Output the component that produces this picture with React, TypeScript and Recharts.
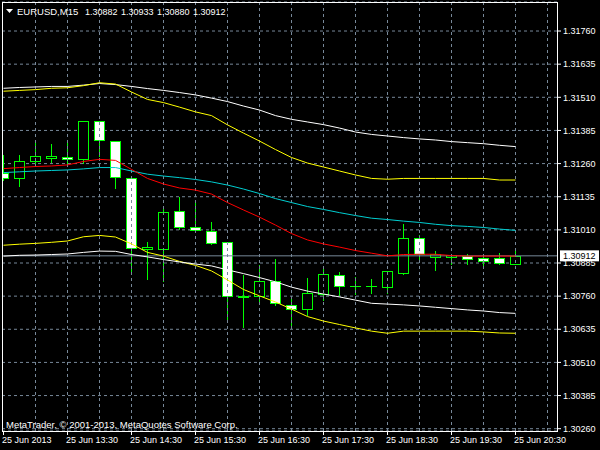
import React from "react";
import { ComposedChart, Bar, Line, XAxis, YAxis, CartesianGrid, ReferenceLine } from "recharts";

// EURUSD M15, 25 Jun 2013, 12:30 .. 20:30
const times = [
  "12:30", "12:45", "13:00", "13:15", "13:30", "13:45", "14:00", "14:15",
  "14:30", "14:45", "15:00", "15:15", "15:30", "15:45", "16:00", "16:15",
  "16:30", "16:45", "17:00", "17:15", "17:30", "17:45", "18:00", "18:15",
  "18:30", "18:45", "19:00", "19:15", "19:30", "19:45", "20:00", "20:15", "20:30",
];

const opens = [
  1.31226, 1.31204, 1.31269, 1.31282, 1.31284, 1.31276, 1.31419, 1.31344,
  1.31204, 1.30939, 1.30937, 1.3108, 1.3102, 1.31004, 1.30963, 1.30762,
  1.30759, 1.30816, 1.30728, 1.3071, 1.30767, 1.30839, 1.30797, 1.30797,
  1.30793, 1.30849, 1.30978, 1.30909, 1.30909, 1.3091, 1.30903, 1.30904, 1.30882,
];
const highs = [
  1.31292, 1.31292, 1.31348, 1.31334, 1.31341, 1.3142, 1.3142, 1.31345,
  1.31205, 1.30963, 1.31097, 1.31135, 1.3112, 1.31038, 1.30964, 1.3084,
  1.30877, 1.309, 1.30753, 1.30827, 1.30874, 1.3085, 1.30833, 1.30823,
  1.30855, 1.31032, 1.30991, 1.3093, 1.30918, 1.30919, 1.30911, 1.30923, 1.30933,
];
const lows = [
  1.31198, 1.31175, 1.31261, 1.31265, 1.31253, 1.31263, 1.31289, 1.31169,
  1.30842, 1.30825, 1.30818, 1.31012, 1.31006, 1.30958, 1.30661, 1.30645,
  1.30743, 1.30727, 1.30644, 1.30689, 1.30745, 1.30764, 1.30768, 1.30772,
  1.30773, 1.30842, 1.30887, 1.30859, 1.3088, 1.3088, 1.30865, 1.3088, 1.3088,
];
const closes = [
  1.31204, 1.31269, 1.31287, 1.31287, 1.31276, 1.31419, 1.31348, 1.3121,
  1.3094, 1.30945, 1.31076, 1.3102, 1.31008, 1.30959, 1.30759, 1.30756,
  1.30816, 1.30733, 1.30713, 1.30771, 1.30842, 1.30797, 1.30797, 1.30797,
  1.30854, 1.30978, 1.30919, 1.30919, 1.30914, 1.30901, 1.30894, 1.30884, 1.30912,
];

// indicator lines (white = outer bands, yellow = inner bands)
const outerUpper = [
  1.31544, 1.31547, 1.31549, 1.31551, 1.31551, 1.31556, 1.31562, 1.31558,
  1.31551, 1.31543, 1.31536, 1.31528, 1.31519, 1.31507, 1.31494, 1.31477,
  1.31462, 1.31441, 1.31427, 1.31417, 1.31407, 1.31394, 1.31379, 1.3137,
  1.31364, 1.31358, 1.31353, 1.31349, 1.31343, 1.31339, 1.31335, 1.31329, 1.31324,
];
const innerUpper = [
  1.31533, 1.31536, 1.31539, 1.31544, 1.31546, 1.31554, 1.31565, 1.3156,
  1.3153, 1.31502, 1.3149, 1.31473, 1.31455, 1.31441, 1.31406, 1.31375,
  1.31345, 1.31313, 1.31283, 1.31262, 1.31247, 1.31232, 1.31217, 1.31204,
  1.31201, 1.31204, 1.31204, 1.31204, 1.31204, 1.31204, 1.31204, 1.31198, 1.31198,
];
const slowMa = [
  1.31226, 1.31229, 1.31232, 1.31234, 1.31236, 1.3124, 1.31245, 1.31245,
  1.31232, 1.3122, 1.31213, 1.31207, 1.312, 1.31191, 1.31179, 1.31164,
  1.31147, 1.31128, 1.31113, 1.31098, 1.31087, 1.31075, 1.31064, 1.31054,
  1.31049, 1.31043, 1.31038, 1.31031, 1.31026, 1.31023, 1.31019, 1.31013, 1.31008,
];
const fastMa = [
  1.31241, 1.31245, 1.31249, 1.31251, 1.31255, 1.31268, 1.31276, 1.31272,
  1.31238, 1.31204, 1.31183, 1.31168, 1.3116, 1.31145, 1.31113, 1.31085,
  1.31058, 1.31028, 1.30996, 1.30972, 1.30957, 1.30945, 1.30932, 1.30922,
  1.30912, 1.30917, 1.30918, 1.30918, 1.30913, 1.30911, 1.30911, 1.30911, 1.30911,
];
const innerLower = [
  1.30952, 1.30956, 1.30959, 1.30963, 1.30968, 1.30984, 1.30989, 1.30983,
  1.30957, 1.30925, 1.30911, 1.30891, 1.30876, 1.30855, 1.30821, 1.30785,
  1.30761, 1.30738, 1.30711, 1.30683, 1.30666, 1.30653, 1.3064, 1.30628,
  1.3062, 1.30628, 1.30628, 1.30628, 1.30628, 1.30628, 1.30625, 1.30621, 1.3062,
];
const outerLower = [
  1.30911, 1.30914, 1.30915, 1.30917, 1.30919, 1.30925, 1.3093, 1.30929,
  1.30917, 1.30908, 1.30898, 1.30889, 1.30881, 1.30874, 1.30859, 1.30845,
  1.3083, 1.30814, 1.30794, 1.30779, 1.30768, 1.30757, 1.30745, 1.30733,
  1.3073, 1.30727, 1.30723, 1.30718, 1.30713, 1.30708, 1.30704, 1.30698, 1.30695,
];

const yTicks = [
  1.3176, 1.31635, 1.3151, 1.31385, 1.3126, 1.31135, 1.3101,
  1.30885, 1.3076, 1.30635, 1.3051, 1.30385, 1.3026,
];
const xTickIdx = [0, 4, 8, 12, 16, 20, 24, 28, 32];
const xTickLabels = [
  "25 Jun 2013", "25 Jun 13:30", "25 Jun 14:30", "25 Jun 15:30", "25 Jun 16:30",
  "25 Jun 17:30", "25 Jun 18:30", "25 Jun 19:30", "25 Jun 20:30",
];
const gridIdx = [2, 4, 6, 8, 10, 12, 14, 16, 18, 20, 22, 24, 26, 28, 30, 32, 34];

const symbol = "EURUSD,M15";
const copyright = "MetaTrader, \u00a9 2001-2013, MetaQuotes Software Corp.";

const data = times.map((t, i) => ({
  idx: i,
  time: t,
  open: opens[i],
  high: highs[i],
  low: lows[i],
  close: closes[i],
  range: [lows[i], highs[i]],
  outerUpper: outerUpper[i],
  innerUpper: innerUpper[i],
  slowMa: slowMa[i],
  fastMa: fastMa[i],
  innerLower: innerLower[i],
  outerLower: outerLower[i],
}));

const last = data[data.length - 1];
const FONT = "'Liberation Sans', Arial, sans-serif";
const GREEN = "#00ff00";
const GRID = "#778899";

const Candle = (props: any) => {
  const { x, y, width, height, payload } = props;
  if (!payload || height == null) return null;
  const { open, high, low, close } = payload;
  const span = high - low || 1e-9;
  const yOf = (v: number) => y + ((high - v) / span) * height;
  const cx = Math.floor(x + width / 2) + 0.5;
  const top = Math.round(yOf(Math.max(open, close))) + 0.5;
  const bot = Math.round(yOf(Math.min(open, close))) + 0.5;
  const bear = close < open;
  return (
    <g>
      <line x1={cx} x2={cx} y1={Math.round(y)} y2={Math.round(y + height) + 1} stroke={GREEN} strokeWidth={1} />
      {bot - top < 1 ? (
        <line x1={cx - 5.5} x2={cx + 5.5} y1={top} y2={top} stroke={GREEN} strokeWidth={1} />
      ) : (
        <rect x={cx - 5} y={top} width={10} height={bot - top} fill={bear ? "#ffffff" : "#000000"} stroke={GREEN} strokeWidth={1} />
      )}
    </g>
  );
};

const XTick = (props: any) => {
  const { x, y, payload } = props;
  const k = xTickIdx.indexOf(payload.value);
  if (k < 0) return null;
  return (
    <text x={x - 1.5} y={y + 8} fill="#ffffff" fontSize={9} fontFamily={FONT} textAnchor="start">
      {xTickLabels[k]}
    </text>
  );
};

const PriceLabel = (props: any) => {
  const vb = props.viewBox || {};
  const bx = vb.x + vb.width + 3;
  const by = vb.y;
  return (
    <g>
      <rect x={bx} y={by - 5.5} width={39} height={11} fill="#ffffff" />
      <text x={bx + 3} y={by + 3.5} fill="#000000" fontSize={9} fontFamily={FONT}>
        {last.close.toFixed(5)}
      </text>
    </g>
  );
};

const App: React.FC = () => {
  const ohlc = [last.open, last.high, last.low, last.close].map((v) => v.toFixed(5));
  const ohlcX = [85, 121, 157, 193];
  return (
    <div style={{ position: "absolute", left: 0, top: 0, width: 600, height: 450, background: "#000000" }}>
      <ComposedChart
        width={600}
        height={450}
        data={data}
        margin={{ top: 2, right: 0, bottom: 0, left: 2 }}
      >
        <CartesianGrid vertical={false} stroke={GRID} strokeDasharray="3 3" />
        {gridIdx.map((g) => (
          <ReferenceLine key={g} x={g} stroke={GRID} strokeDasharray="3 3" />
        ))}
        <XAxis
          dataKey="idx"
          type="number"
          domain={[-0.09375, 34.59375]}
          allowDataOverflow
          ticks={xTickIdx}
          interval={0}
          height={19}
          axisLine={false}
          tickLine={{ stroke: "#ffffff" }}
          tickSize={4}
          tickMargin={0}
          tick={<XTick />}
        />
        <YAxis
          orientation="right"
          type="number"
          domain={[1.302513, 1.318695]}
          allowDataOverflow
          ticks={yTicks}
          interval={0}
          width={43}
          axisLine={false}
          tickLine={{ stroke: "#ffffff" }}
          tickSize={4}
          tickMargin={2}
          tick={{ fill: "#ffffff", fontSize: 9, fontFamily: FONT }}
          tickFormatter={(v: number) => v.toFixed(5)}
        />
        <ReferenceLine y={last.close} stroke={GRID} label={<PriceLabel />} />
        <Bar dataKey="range" barSize={11} shape={<Candle />} isAnimationActive={false} />
        <Line dataKey="outerUpper" stroke="#ffffff" dot={false} strokeWidth={1} isAnimationActive={false} />
        <Line dataKey="innerUpper" stroke="#ffff00" dot={false} strokeWidth={1} isAnimationActive={false} />
        <Line dataKey="slowMa" stroke="#00ced1" dot={false} strokeWidth={1} isAnimationActive={false} />
        <Line dataKey="fastMa" stroke="#ff0000" dot={false} strokeWidth={1} isAnimationActive={false} />
        <Line dataKey="innerLower" stroke="#ffff00" dot={false} strokeWidth={1} isAnimationActive={false} />
        <Line dataKey="outerLower" stroke="#ffffff" dot={false} strokeWidth={1} isAnimationActive={false} />
      </ComposedChart>
      <svg
        width={600}
        height={450}
        style={{ position: "absolute", left: 0, top: 0, pointerEvents: "none" }}
      >
        <rect x={2.5} y={2.5} width={555} height={429} fill="none" stroke="#ffffff" strokeWidth={1} />
        <polygon points="6,9 13,9 9.5,13" fill="#ffffff" />
        <text x={17} y={15} fill="#ffffff" fontSize={9.5} fontFamily={FONT}>{symbol}</text>
        {ohlc.map((v, i) => (
          <text key={i} x={ohlcX[i]} y={15} fill="#ffffff" fontSize={9} fontFamily={FONT}>{v}</text>
        ))}
        <text x={6} y={427.5} fill="#ffffff" fontSize={9.5} fontFamily={FONT}>{copyright}</text>
      </svg>
    </div>
  );
};

export default App;
